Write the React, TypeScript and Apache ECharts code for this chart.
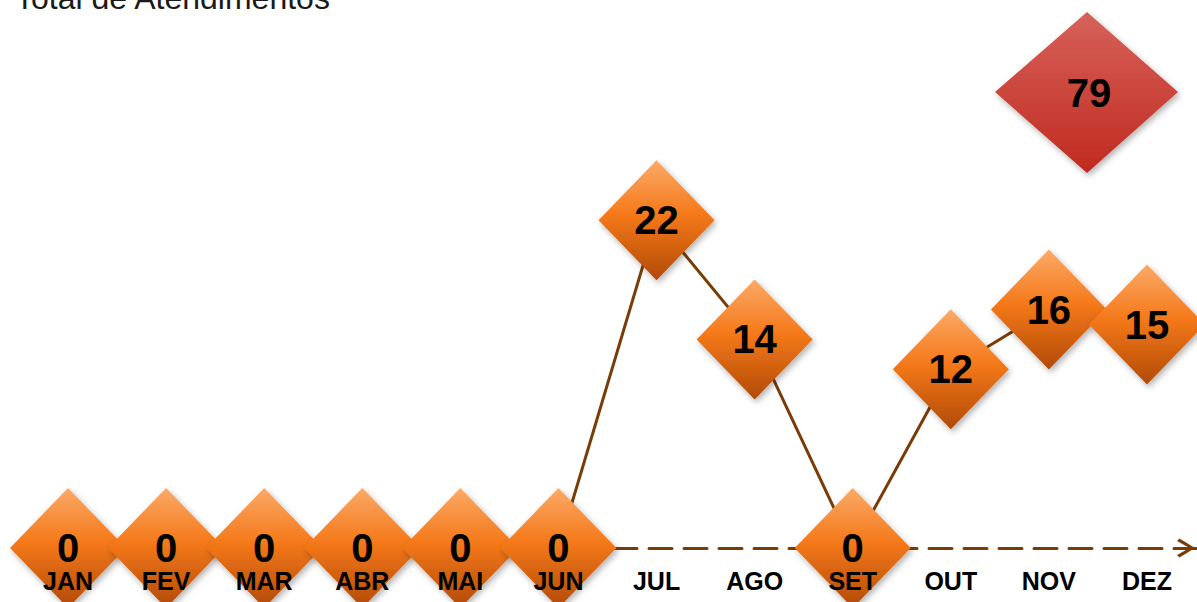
import React, { useEffect, useRef } from "react";
import * as echarts from "echarts";

const months = ["JAN", "FEV", "MAR", "ABR", "MAI", "JUN", "JUL", "AGO", "SET", "OUT", "NOV", "DEZ"];
const atendimentos = [0, 0, 0, 0, 0, 0, 22, 14, 0, 12, 16, 15];
const total = 79;
const titleText = "Total de Atendimentos";

const FONT = "'Liberation Sans', Arial, sans-serif";

export default function App() {
  const ref = useRef<HTMLDivElement>(null);
  useEffect(() => {
    document.body.style.margin = "0";
    const chart = echarts.init(ref.current!, null, { renderer: "svg" });
    chart.setOption({
      animation: false,
      grid: { left: 19, right: 1, top: 101, bottom: 54 },
      xAxis: [
        {
          type: "category",
          data: months,
          position: "bottom",
          z: 0,
          axisLine: {
            show: true,
            symbol: ["none", "path://M0,15.5 L9.5,0 L19,15.5 L16.5,18 L9.5,5.5 L2.5,18 Z"],
            symbolSize: [19, 18],
            symbolOffset: [0, -10],
            lineStyle: { color: "#7a3c06", width: 3, type: [23, 12] },
          },
          axisTick: { show: false },
          axisLabel: { show: false },
        },
        {
          type: "category",
          data: months,
          position: "bottom",
          z: 10,
          axisLine: { show: false },
          axisTick: { show: false },
          axisLabel: {
            show: true,
            color: "#000",
            fontSize: 25,
            fontWeight: "bold",
            fontFamily: FONT,
            margin: 20,
          },
        },
      ],
      yAxis: { type: "value", min: 0, max: 30, show: false, splitLine: { show: false } },
      series: [
        {
          type: "line",
          data: atendimentos,
          clip: false,
          z: 5,
          showSymbol: true,
          showAllSymbol: true,
          symbol: "diamond",
          symbolSize: [116, 120],
          lineStyle: { color: "#7a3c06", width: 3 },
          itemStyle: {
            color: {
              type: "linear",
              x: 0,
              y: 0,
              x2: 0,
              y2: 1,
              colorStops: [
                { offset: 0, color: "#fbaa68" },
                { offset: 0.45, color: "#f5791a" },
                { offset: 1, color: "#b14a05" },
              ],
            },
            shadowBlur: 6,
            shadowOffsetX: 2,
            shadowOffsetY: 3,
            shadowColor: "rgba(0,0,0,0.3)",
          },
          label: {
            show: true,
            position: "inside",
            color: "#000",
            fontSize: 40,
            fontWeight: "bold",
            fontFamily: FONT,
          },
        },
      ],
      graphic: [
        {
          type: "text",
          left: 15,
          top: -18,
          z: 20,
          style: { text: titleText, fontSize: 32, fontFamily: FONT, fill: "#1a1a1a" },
        },
        {
          type: "polygon",
          z: 20,
          shape: { points: [[995, 92], [1087, 12], [1178, 92], [1087, 173]] },
          style: {
            fill: {
              type: "linear",
              x: 0,
              y: 0,
              x2: 0,
              y2: 1,
              colorStops: [
                { offset: 0, color: "#d6625a" },
                { offset: 1, color: "#c02a1f" },
              ],
            },
            shadowBlur: 6,
            shadowOffsetX: 2,
            shadowOffsetY: 3,
            shadowColor: "rgba(0,0,0,0.3)",
          },
        },
        {
          type: "text",
          x: 1089,
          y: 93,
          z: 21,
          style: {
            text: String(total),
            fontSize: 40,
            fontWeight: "bold",
            fontFamily: FONT,
            fill: "#000",
            align: "center",
            verticalAlign: "middle",
          },
        },
      ],
    });
    return () => chart.dispose();
  }, []);
  return <div ref={ref} style={{ width: 1197, height: 602 }} />;
}
